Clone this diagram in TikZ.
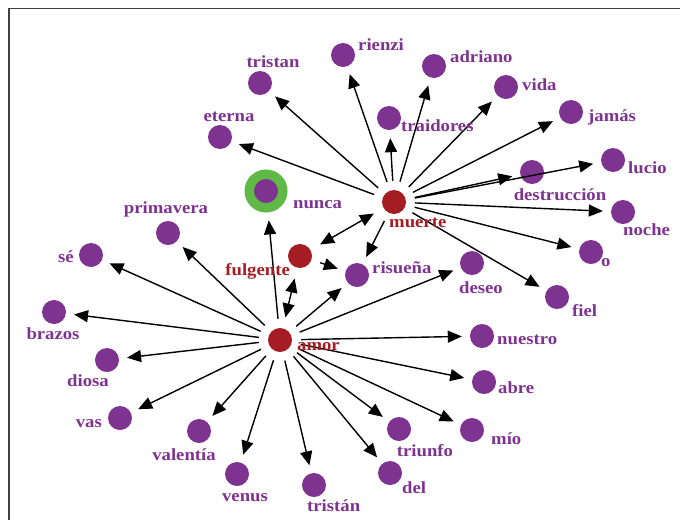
\documentclass[tikz,border=0pt]{standalone}
\usepackage{fontspec}
\setmainfont{Liberation Serif}[FakeStretch=1.1]
\usetikzlibrary{arrows.meta}
\definecolor{vio}{HTML}{7F3391}
\definecolor{rojo}{HTML}{A51D22}
\definecolor{verde}{HTML}{60B946}
\begin{document}
\begin{tikzpicture}[x=1pt,y=-1pt,
  dot/.style={circle, fill=vio, inner sep=0pt, minimum size=24pt},
  hub/.style={dot, fill=rojo},
  lab/.style={text=vio, font=\fontsize{17}{17}\selectfont\bfseries, inner sep=0pt},
  hublab/.style={lab, text=rojo},
  tip/.tip={Triangle[length=14pt,width=12pt]},
  arr/.style={-tip, line width=1.4pt, shorten <=9pt, shorten >=8pt},
  darr/.style={tip-tip, line width=1.4pt, shorten <=11pt, shorten >=11pt},
  frame/.style={line width=1.6pt, black!75}]
\useasboundingbox (0,0) rectangle (680,520);
\draw[frame] (680,8.5) -- (9,8.5) -- (9,520);

% nodes
\node[dot] (tristan) at (260,83) {};
\node[dot] (eterna) at (220,137) {};
\node[circle, fill=vio, draw=verde, line width=9.5pt, inner sep=0pt, minimum size=33.5pt] (nunca) at (266,191) {};
\node[dot] (primavera) at (168,233) {};
\node[dot] (se) at (91,255) {};
\node[dot] (rienzi) at (343,55) {};
\node[dot] (adriano) at (434,66) {};
\node[dot] (vida) at (506,87) {};
\node[dot] (jamas) at (571,112) {};
\node[dot] (traidores) at (389,118) {};
\node[dot] (lucio) at (613,160) {};
\node[dot] (destruccion) at (532,172) {};
\node[hub] (muerte) at (394,202) {};
\node[dot] (noche) at (623,212) {};
\node[dot] (o) at (591,252) {};
\node[hub] (fulgente) at (300,256) {};
\node[dot] (risuena) at (357,275) {};
\node[dot] (deseo) at (472,263) {};
\node[dot] (fiel) at (557,297) {};
\node[hub] (amor) at (280,340) {};
\node[dot] (brazos) at (54,312) {};
\node[dot] (diosa) at (107,360) {};
\node[dot] (vas) at (120,418) {};
\node[dot] (valentia) at (199,431) {};
\node[dot] (venus) at (237,474) {};
\node[dot] (tristan2) at (314,485) {};
\node[dot] (nuestro) at (482,336) {};
\node[dot] (abre) at (484,382) {};
\node[dot] (mio) at (472,430) {};
\node[dot] (triunfo) at (399,429) {};
\node[dot] (del) at (390,473) {};

% edges from muerte
\foreach \t in {tristan,eterna,rienzi,adriano,traidores,vida,jamas,destruccion,lucio,noche,o,fiel,risuena}
  \draw[arr] (muerte) -- (\t);
% edges from amor
\foreach \t in {nunca,risuena,deseo,nuestro,abre,mio,triunfo,del,tristan2,venus,valentia,vas,diosa,brazos,se,primavera}
  \draw[arr] (amor) -- (\t);
\draw[darr] (muerte) -- (fulgente);
\draw[darr] (amor) -- (fulgente);
\draw[arr] (fulgente) -- (risuena);

% labels
\node[lab, anchor=base] (tristan-l) at (273,67) {tristan};
\node[lab, anchor=base] (eterna-l) at (229,121) {eterna};
\node[lab, anchor=base west] (nunca-l) at (293,208) {nunca};
\node[lab, anchor=base] (primavera-l) at (166,213) {primavera};
\node[lab, anchor=base east] (se-l) at (74,262) {sé};
\node[lab, anchor=base west] (rienzi-l) at (358,50) {rienzi};
\node[lab, anchor=base west] (adriano-l) at (450,62) {adriano};
\node[lab, anchor=base west] (vida-l) at (522,90) {vida};
\node[lab, anchor=base west] (jamas-l) at (588,121) {jamás};
\node[lab, anchor=base west] (traidores-l) at (401,131) {traidores};
\node[lab, anchor=base west] (lucio-l) at (628,173) {lucio};
\node[lab, anchor=base] (destruccion-l) at (560,200) {destrucción};
\node[hublab, anchor=base west] (muerte-l) at (389,227) {muerte};
\node[lab, anchor=base west] (noche-l) at (623,235) {noche};
\node[lab, anchor=base west] (o-l) at (601,266) {o};
\node[hublab, anchor=base east] (fulgente-l) at (290,275) {fulgente};
\node[lab, anchor=base west] (risuena-l) at (372,273) {risueña};
\node[lab, anchor=base] (deseo-l) at (481,293) {deseo};
\node[lab, anchor=base west] (fiel-l) at (572,316) {fiel};
\node[hublab, anchor=base west] (amor-l) at (297,350) {amor};
\node[lab, anchor=base] (brazos-l) at (53,339) {brazos};
\node[lab, anchor=base] (diosa-l) at (88,386) {diosa};
\node[lab, anchor=base east] (vas-l) at (102,427) {vas};
\node[lab, anchor=base] (valentia-l) at (184,460) {valentía};
\node[lab, anchor=base] (venus-l) at (245,501) {venus};
\node[lab, anchor=base west] (tristan2-l) at (307,511) {tristán};
\node[lab, anchor=base west] (nuestro-l) at (497,344) {nuestro};
\node[lab, anchor=base west] (abre-l) at (498,393) {abre};
\node[lab, anchor=base west] (mio-l) at (491,444) {mío};
\node[lab, anchor=base] (triunfo-l) at (425,456) {triunfo};
\node[lab, anchor=base west] (del-l) at (402,493) {del};
\end{tikzpicture}
\end{document}
